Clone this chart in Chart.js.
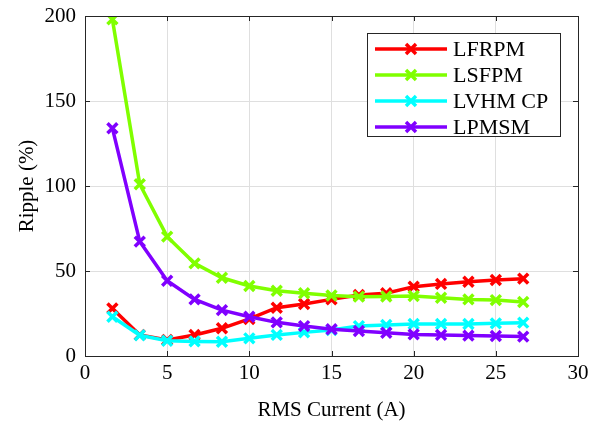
<!DOCTYPE html>
<html>
<head>
<meta charset="utf-8">
<script src="https://cdn.jsdelivr.net/npm/chart.js@4.4.0/dist/chart.umd.min.js"></script>
<style>
  html, body { margin: 0; padding: 0; background: #fff; }
  #wrap { width: 602px; height: 428px; }
</style>
</head>
<body>
<div id="wrap"><canvas id="ripple" width="602" height="428"></canvas></div>
<script>
const current = [1.667, 3.333, 5, 6.667, 8.333, 10, 11.667, 13.333, 15, 16.667, 18.333, 20, 21.667, 23.333, 25, 26.667];
const lfrpm = [28, 12.4, 9.4, 12.4, 16.3, 21.8, 28.4, 30.6, 33.3, 35.9, 36.9, 40.8, 42.4, 43.7, 44.7, 45.5];
const lsfpm = [198, 101, 70.2, 54.5, 46, 41.2, 38.4, 36.9, 35.6, 34.9, 35, 35.3, 34.3, 33.3, 32.9, 31.8];
const lvhmcp = [23.1, 12.2, 9, 8.6, 8.4, 10.4, 12.4, 13.9, 15.3, 17.6, 18.2, 18.8, 18.8, 18.8, 19.2, 19.6];
const lpmsm = [134, 67.3, 44.3, 33.3, 27, 23.1, 19.8, 17.6, 15.7, 14.7, 13.7, 12.7, 12.4, 12, 11.8, 11.4];
const xTicks = [0, 5, 10, 15, 20, 25, 30];
const yTicks = [0, 50, 100, 150, 200];

const names = ["LFRPM", "LSFPM", "LVHM CP", "LPMSM"];
const colors = ["#ff0000", "#80ff00", "#00ffff", "#8000ff"];
const series = [lfrpm, lsfpm, lvhmcp, lpmsm];

const serif = "'Liberation Serif', 'DejaVu Serif', serif";

// MATLAB style: ticks pointing inward on all four sides
const innerTicks = {
  id: "innerTicks",
  afterDraw(chart) {
    const { ctx, chartArea: a, scales: { x, y } } = chart;
    ctx.save();
    ctx.strokeStyle = "#262626";
    ctx.lineWidth = 1;
    ctx.beginPath();
    xTicks.forEach(v => {
      const px = Math.round(x.getPixelForValue(v)) + 0.5;
      ctx.moveTo(px, a.bottom); ctx.lineTo(px, a.bottom - 5);
      ctx.moveTo(px, a.top); ctx.lineTo(px, a.top + 5);
    });
    yTicks.forEach(v => {
      const py = Math.round(y.getPixelForValue(v)) + 0.5;
      ctx.moveTo(a.left, py); ctx.lineTo(a.left + 5, py);
      ctx.moveTo(a.right, py); ctx.lineTo(a.right - 5, py);
    });
    ctx.stroke();
    ctx.strokeRect(a.left + 0.5, a.top + 0.5, a.right - a.left, a.bottom - a.top);
    ctx.restore();
  }
};

// legend box inside the axes, upper right
const boxLegend = {
  id: "boxLegend",
  afterDraw(chart) {
    const { ctx } = chart;
    const bx = 367, by = 33, bw = 193, bh = 103;
    ctx.save();
    ctx.fillStyle = "#fff";
    ctx.fillRect(bx, by, bw, bh);
    ctx.strokeStyle = "#262626";
    ctx.lineWidth = 1;
    ctx.strokeRect(bx + 0.5, by + 0.5, bw, bh);
    ctx.font = "22px " + serif;
    ctx.textBaseline = "middle";
    names.forEach((n, i) => {
      const ly = by + 16 + i * 26;
      ctx.strokeStyle = colors[i];
      ctx.lineWidth = 3.5;
      ctx.beginPath();
      ctx.moveTo(bx + 8, ly); ctx.lineTo(bx + 80, ly);
      ctx.stroke();
      const mx = bx + 44, r = 5;
      ctx.beginPath();
      ctx.moveTo(mx - r, ly - r); ctx.lineTo(mx + r, ly + r);
      ctx.moveTo(mx - r, ly + r); ctx.lineTo(mx + r, ly - r);
      ctx.stroke();
      ctx.fillStyle = "#000";
      ctx.fillText(n, bx + 86, ly + 1);
    });
    ctx.restore();
  }
};

const datasets = series.map((s, i) => ({
  label: names[i],
  data: current.map((c, j) => ({ x: c, y: s[j] })),
  borderColor: colors[i],
  backgroundColor: colors[i],
  borderWidth: 3.5,
  pointStyle: "crossRot",
  pointRadius: 7,
  pointBorderWidth: 3.5,
  tension: 0,
  order: series.length - i
}));

new Chart(document.getElementById("ripple"), {
  type: "line",
  data: { datasets },
  plugins: [innerTicks, boxLegend],
  options: {
    responsive: false,
    animation: false,
    layout: { padding: { top: 16, right: 24, left: 0, bottom: 0 } },
    plugins: { legend: { display: false }, tooltip: { enabled: false } },
    scales: {
      x: {
        type: "linear",
        min: 0, max: 30,
        afterBuildTicks(scale) { scale.ticks = xTicks.map(v => ({ value: v })); },
        afterFit(scale) { scale.height = 72; scale.paddingLeft = 0; scale.paddingRight = 0; },
        grid: { color: "#dfdfdf", tickLength: 0, drawTicks: false },
        border: { display: false },
        ticks: { color: "#000", font: { family: serif, size: 21 }, padding: 5, maxRotation: 0 },
        title: { display: true, text: "RMS Current (A)", color: "#000", font: { family: serif, size: 21 }, padding: { top: 10, bottom: 5 } }
      },
      y: {
        min: 0, max: 200,
        afterBuildTicks(scale) { scale.ticks = yTicks.map(v => ({ value: v })); },
        afterFit(scale) { scale.width = 85; scale.paddingTop = 0; scale.paddingBottom = 0; },
        grid: { color: "#dfdfdf", tickLength: 0, drawTicks: false },
        border: { display: false },
        ticks: { color: "#000", font: { family: serif, size: 21 }, padding: 9 },
        title: { display: true, text: "Ripple (%)", color: "#000", font: { family: serif, size: 21 }, padding: { top: 15, bottom: 4 } }
      }
    }
  }
});
</script>
</body>
</html>
